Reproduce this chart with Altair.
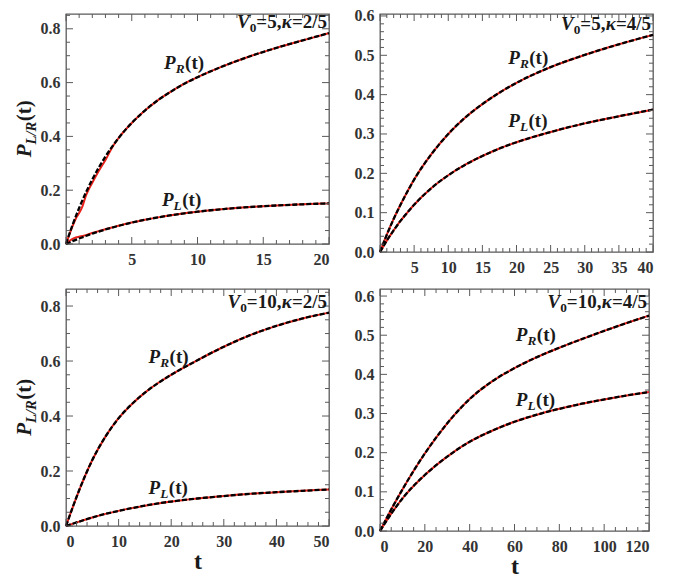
import altair as alt
import pandas as pd

SERIF = "Liberation Serif"
TXT = "#1a1a1a"
LAB = "#333333"
FRAME = "#5a5a5a"

# ---------------- data ----------------
# Panel 1: V0=5, kappa=2/5  (black dashed = analytic, red = numeric)
t1 = [0, 0.5, 1, 1.5, 2, 3, 4, 5, 6, 7, 8, 9, 10, 12, 14, 16, 18, 20]
pr1 = [0, 0.071, 0.134, 0.19, 0.24, 0.325, 0.394, 0.45, 0.496, 0.535, 0.567, 0.596, 0.62, 0.662, 0.698, 0.729, 0.757, 0.784]
pl1 = [0, 0.0106, 0.0205, 0.0297, 0.0384, 0.054, 0.0676, 0.0796, 0.09, 0.099, 0.107, 0.114, 0.12, 0.13, 0.1375, 0.1432, 0.1476, 0.151]
t1_red = [0, 0.25, 0.5, 0.75, 1, 1.25, 1.5, 1.75, 2, 2.5, 3, 3.5, 4, 5, 6, 7, 8, 9, 10, 12, 14, 16, 18, 20]
pr1_red = [0, 0.034, 0.066, 0.095, 0.115, 0.14, 0.178, 0.205, 0.228, 0.272, 0.312, 0.358, 0.394, 0.45, 0.496, 0.535, 0.567, 0.596, 0.62, 0.662, 0.698, 0.729, 0.757, 0.784]
pl1_red = [0, 0.011, 0.019, 0.024, 0.027, 0.030, 0.033, 0.037, 0.041, 0.048, 0.055, 0.061, 0.0676, 0.0796, 0.09, 0.099, 0.107, 0.114, 0.12, 0.13, 0.1375, 0.1432, 0.1476, 0.151]

# Panel 2: V0=5, kappa=4/5
t2 = [0, 1, 2, 3, 4, 5, 7.5, 10, 12.5, 15, 17.5, 20, 25, 30, 35, 40]
pr2 = [0, 0.044, 0.084, 0.12, 0.153, 0.184, 0.248, 0.30, 0.342, 0.376, 0.405, 0.43, 0.47, 0.501, 0.528, 0.552]
pl2 = [0, 0.029, 0.055, 0.079, 0.10, 0.12, 0.162, 0.195, 0.222, 0.244, 0.263, 0.279, 0.305, 0.327, 0.345, 0.362]

# Panel 3: V0=10, kappa=2/5
t3 = [0, 2.5, 5, 7.5, 10, 12.5, 15, 17.5, 20, 25, 30, 35, 40, 45, 50]
pr3 = [0, 0.13, 0.24, 0.325, 0.392, 0.443, 0.485, 0.52, 0.55, 0.603, 0.652, 0.694, 0.728, 0.755, 0.776]
pl3 = [0, 0.016, 0.031, 0.044, 0.055, 0.065, 0.074, 0.082, 0.089, 0.10, 0.109, 0.117, 0.123, 0.128, 0.133]

# Panel 4: V0=10, kappa=4/5
t4 = [0, 5, 10, 20, 30, 40, 50, 60, 70, 80, 90, 100, 110, 120]
pr4 = [0, 0.055, 0.106, 0.198, 0.275, 0.337, 0.382, 0.416, 0.444, 0.468, 0.49, 0.511, 0.531, 0.55]
pl4 = [0, 0.044, 0.083, 0.143, 0.19, 0.228, 0.256, 0.279, 0.297, 0.312, 0.325, 0.336, 0.346, 0.355]

# tick labels
x1_labels = [5, 10, 15, 20]
x2_labels = [5, 10, 15, 20, 25, 30, 35, 40]
x3_labels = [0, 10, 20, 30, 40, 50]
x4_labels = [0, 20, 40, 60, 80, 100, 120]
y13_labels = [0.0, 0.2, 0.4, 0.6, 0.8]
y24_labels = [0.0, 0.1, 0.2, 0.3, 0.4, 0.5, 0.6]

# annotation anchors (t, value)
lab1 = {"R": (7.46, 0.65), "L": (7.3, 0.14)}
lab2 = {"R": (18.8, 0.477), "L": (18.8, 0.317)}
lab3 = {"R": (15.7, 0.594), "L": (15.7, 0.115)}
lab4 = {"R": (60.6, 0.485), "L": (60.6, 0.319)}
titles = [("5", "2/5", 0.803), ("5", "4/5", 0.565), ("10", "2/5", 0.794), ("10", "4/5", 0.570)]

# ---------------- helpers ----------------
W_UP = {"(": 333, ")": 333, "t": 333, "=": 570, ",": 250, "/": 278}
W_IT = {"P": 611, "R": 667, "L": 611, "V": 667, "\u03ba": 550, "/": 278}


def tw(s, size, italic):
    tab = W_IT if italic else W_UP
    return sum(tab.get(c, 500) for c in s) * size / 1000.0


def minors(lo, hi, step, majors):
    out = []
    k = 0
    while True:
        v = round(lo + k * step, 6)
        if v > hi + 1e-9:
            break
        if all(abs(v - m) > 1e-9 for m in majors):
            out.append(v)
        k += 1
    return out


def text_piece(df, s, size, italic, dx, dy, align, xenc, yenc, angle=0, xv=None, yv=None):
    kw = dict(text=s, font=SERIF, fontWeight="bold", fontSize=size, align=align,
              baseline="alphabetic", dx=dx, dy=dy, color=TXT)
    if italic:
        kw["fontStyle"] = "italic"
    if angle:
        kw["angle"] = angle
    ch = alt.Chart(df).mark_text(**kw)
    if xv is not None:
        return ch.encode(x=alt.value(xv), y=alt.value(yv))
    return ch.encode(x=xenc, y=yenc)


def panel(t, pr, pl, tr, prr, plr, xdom, ydom, xlabels, ylabels, xmaj, xstep, ymaj, ystep,
          W, H, labs, title, ytitle, xtitle):
    xaxis = alt.Axis(values=xlabels, format="d", labelFont=SERIF, labelFontWeight="bold",
                     labelFontSize=16, labelColor=LAB, ticks=False, domain=False, grid=False,
                     labelPadding=7, titleFont=SERIF, titleFontWeight="bold", titleFontSize=24,
                     titleColor=TXT, titlePadding=0)
    yaxis = alt.Axis(values=ylabels, format=".1f", labelFont=SERIF, labelFontWeight="bold",
                     labelFontSize=16, labelColor=LAB, ticks=False, domain=False, grid=False,
                     labelPadding=6)
    if xtitle:
        xenc = alt.X("t:Q", scale=alt.Scale(domain=xdom, nice=False, zero=False), axis=xaxis, title="t")
    else:
        xenc = alt.X("t:Q", scale=alt.Scale(domain=xdom, nice=False, zero=False), axis=xaxis, title=None)
    yenc = alt.Y("p:Q", scale=alt.Scale(domain=ydom, nice=False, zero=False), axis=yaxis, title=None)

    blk = pd.concat([pd.DataFrame({"t": t, "p": pr, "s": "R"}),
                     pd.DataFrame({"t": t, "p": pl, "s": "L"})])
    red = pd.concat([pd.DataFrame({"t": tr, "p": prr, "s": "R"}),
                     pd.DataFrame({"t": tr, "p": plr, "s": "L"})])
    layers = []
    layers.append(alt.Chart(red).mark_line(color="#e8211a", strokeWidth=2, interpolate="monotone")
                  .encode(x=xenc, y=yenc, detail="s:N"))
    layers.append(alt.Chart(blk).mark_line(color="#000000", strokeWidth=2.3, strokeDash=[5, 2],
                                           interpolate="monotone")
                  .encode(x=xenc, y=yenc, detail="s:N"))

    # inward frame ticks on all four sides
    xmin_ = minors(xdom[0], xdom[1], xstep, xmaj)
    ymin_ = minors(ydom[0], ydom[1], ystep, ymaj)
    for vals, L in ((xmaj, 7), (xmin_, 4)):
        df = pd.DataFrame({"t": vals})
        base = alt.Chart(df).mark_rule(color=FRAME, strokeWidth=1)
        layers.append(base.encode(x=xenc, y=alt.value(H), y2=alt.value(H - L)))
        layers.append(base.encode(x=xenc, y=alt.value(0), y2=alt.value(L)))
    for vals, L in ((ymaj, 7), (ymin_, 4)):
        df = pd.DataFrame({"p": vals})
        base = alt.Chart(df).mark_rule(color=FRAME, strokeWidth=1)
        layers.append(base.encode(y=yenc, x=alt.value(0), x2=alt.value(L)))
        layers.append(base.encode(y=yenc, x=alt.value(W), x2=alt.value(W - L)))

    # curve labels P_R(t), P_L(t)
    S = 19
    sub = 13.3
    for key in ("R", "L"):
        tx, pv = labs[key]
        df = pd.DataFrame({"t": [tx], "p": [pv]})
        w0 = tw("P", S, True)
        w1 = tw(key, sub, True)
        layers.append(text_piece(df, "P", S, True, 0, 0, "left", xenc, yenc))
        layers.append(text_piece(df, key, sub, True, w0, 4, "left", xenc, yenc))
        layers.append(text_piece(df, "(t)", S, False, w0 + w1 + 0.5, 0, "left", xenc, yenc))

    # panel title V0=..,kappa=..
    v0, kap, tv = title
    df = pd.DataFrame({"t": [xdom[1]], "p": [tv]})
    T = 19
    pieces = [("V", T, True, 0), ("0", 13.3, False, 4), ("=" + v0 + ",", T, False, 0),
              ("\u03ba", T, True, 0), ("=" + kap, T, False, 0)]
    off = -2.0
    for s, size, it, dy in reversed(pieces):
        layers.append(text_piece(df, s, size, it, off, dy, "right", xenc, yenc))
        off -= tw(s, size, it)

    # y-axis title P_{L/R}(t), rotated
    if ytitle:
        YS = 21
        ysub = 14.7
        w0 = tw("P", YS, True)
        w1 = tw("L/R", ysub, True)
        w2 = tw("(t)", YS, False)
        start = H / 2 + (w0 + w1 + w2) / 2
        dfd = pd.DataFrame({"t": [0]})
        layers.append(text_piece(dfd, "P", YS, True, 0, 0, "left", None, None, 270, -35, start))
        layers.append(text_piece(dfd, "L/R", ysub, True, w0, 4.5, "left", None, None, 270, -35, start))
        layers.append(text_piece(dfd, "(t)", YS, False, w0 + w1 + 0.5, 0, "left", None, None, 270, -35, start))

    return alt.layer(*layers).properties(width=W, height=H)


p1 = panel(t1, pr1, pl1, t1_red, pr1_red, pl1_red, [0, 20], [0, 0.855], x1_labels, y13_labels,
           [0, 5, 10, 15, 20], 1, y13_labels, 0.05, 263, 230, lab1, titles[0], True, False)
p2 = panel(t2, pr2, pl2, t2, pr2, pl2, [0, 40], [0, 0.605], x2_labels, y24_labels,
           [0, 5, 10, 15, 20, 25, 30, 35, 40], 1, y24_labels, 0.02, 273, 238, lab2, titles[1], False, False)
p3 = panel(t3, pr3, pl3, t3, pr3, pl3, [0, 50], [0, 0.862], x3_labels, y13_labels,
           x3_labels, 2, y13_labels, 0.05, 263, 237, lab3, titles[2], True, True)
p4 = panel(t4, pr4, pl4, t4, pr4, pl4, [0, 120], [0, 0.618], x4_labels, y24_labels,
           x4_labels, 5, y24_labels, 0.02, 269, 242, lab4, titles[3], False, True)

row1 = alt.hconcat(p1, p2, spacing=51, bounds="flush")
row2 = alt.hconcat(p3, p4, spacing=51, bounds="flush")
chart = alt.vconcat(row1, row2, spacing=11).properties(
    padding={"left": 5, "top": -1, "right": 5, "bottom": 0}
).configure_view(stroke=FRAME, strokeWidth=1.3)

chart.save("out.html", embed_options={"renderer": "svg", "actions": False})
